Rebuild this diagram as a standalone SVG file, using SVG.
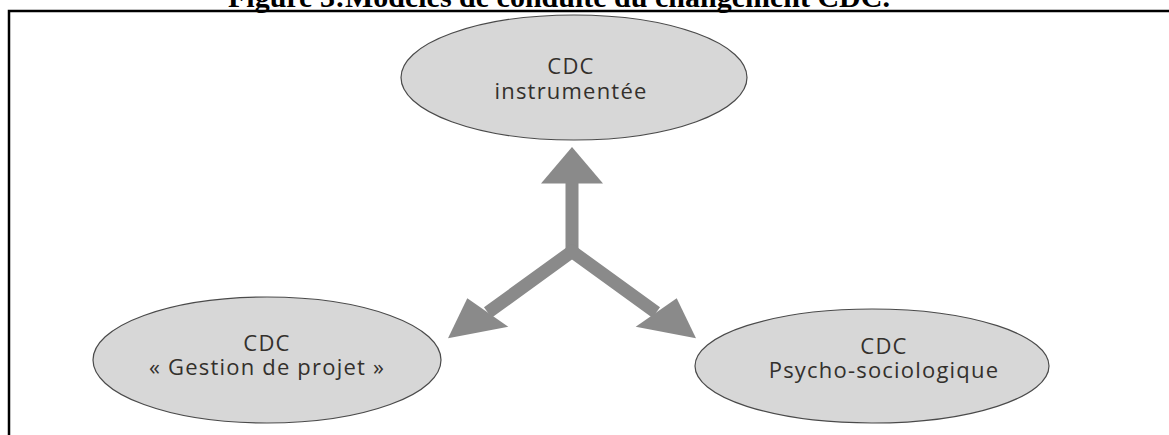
<svg xmlns="http://www.w3.org/2000/svg" width="1169" height="435" viewBox="0 0 1169 435">
  <style>
    .title { font-family: "Liberation Serif", "Times New Roman", serif; font-weight: bold; font-size: 30px; fill: #000; }
    .frame { fill: none; stroke: #000; stroke-width: 2.5; }
    .bubble { fill: #d7d7d7; stroke: #4a4a4a; stroke-width: 1.2; }
    .label { font-family: "Open Sans", "Noto Sans", sans-serif; font-weight: 400; font-size: 22px; letter-spacing: 1.2px; fill: #33302c; text-anchor: middle; }
    .shaft { fill: none; stroke: #8a8a8a; stroke-width: 13; stroke-linejoin: miter; }
    .head { fill: #8a8a8a; }
  </style>

  <rect width="1169" height="435" fill="#fff"/>

  <!-- caption, partly cut off by the top edge -->
  <text class="title" x="228" y="7">Figure 3:Modèles de conduite du changement CDC.</text>

  <!-- frame: top and left rules -->
  <path class="frame" d="M9,435 V11 H1169"/>

  <g id="connectors">
    <path class="shaft" d="M572,258 V183"/>
    <path class="shaft" d="M487.8,312.5 L572,251.5 L656.2,312.5"/>
    <polygon class="head" points="572,147 541,183.5 603,183.5"/>
    <polygon class="head" points="448,338.3 467.3,298.3 508.3,326.7"/>
    <polygon class="head" points="696,338.3 676.7,298.3 635.7,326.7"/>
  </g>

  <g id="node-instrumentee">
    <ellipse class="bubble" cx="574" cy="77.5" rx="173" ry="62.5"/>
    <text class="label" x="571" y="74">CDC</text>
    <text class="label" x="571" y="99">instrumentée</text>
  </g>

  <g id="node-gestion-projet">
    <ellipse class="bubble" cx="267" cy="360" rx="174" ry="63"/>
    <text class="label" x="267" y="351">CDC</text>
    <text class="label" x="267" y="375">« Gestion de projet »</text>
  </g>

  <g id="node-psycho-sociologique">
    <ellipse class="bubble" cx="872" cy="366" rx="177" ry="57"/>
    <text class="label" x="884" y="354">CDC</text>
    <text class="label" x="884" y="378">Psycho-sociologique</text>
  </g>
</svg>
